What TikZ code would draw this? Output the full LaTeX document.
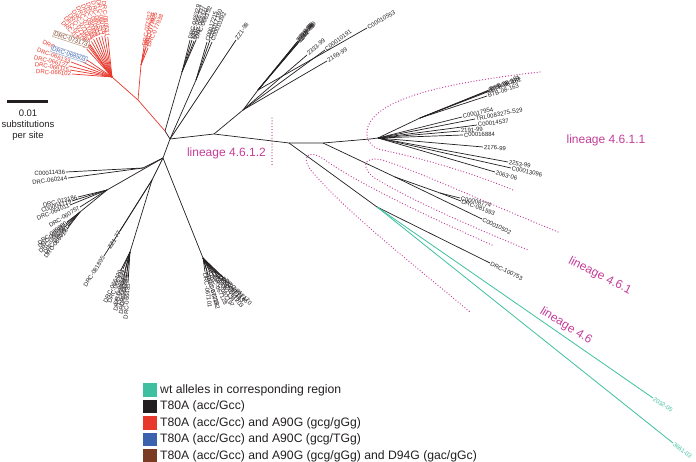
\documentclass[tikz,border=0pt]{standalone}
\usepackage{fontspec}
\setmainfont{Liberation Sans}
\definecolor{tblk}{HTML}{231F20}
\definecolor{tred}{HTML}{E8382C}
\definecolor{tteal}{HTML}{3EBF9F}
\definecolor{tblue}{HTML}{3A62AD}
\definecolor{tbrown}{HTML}{7B3A22}
\definecolor{tmag}{HTML}{C43D98}
\definecolor{tanbox}{HTML}{B49A80}
\definecolor{bluebox}{HTML}{8FA6D0}
\newcommand\lfR[5]{\coordinate (#3) at (#4); \draw[#1] (#2) -- (#3) node[lbl,sloped,pos=1,anchor=west] (#3l) {#5};}
\newcommand\lfL[5]{\coordinate (#3) at (#4); \draw[#1] (#2) -- (#3) node[lbl,sloped,pos=1,anchor=east] (#3l) {#5};}
\begin{document}
\begin{tikzpicture}[x=1pt,y=-1pt,
 bk/.style={draw=tblk,text=tblk,line width=0.7pt},
 rd/.style={draw=tred,text=tred,line width=0.7pt},
 tl/.style={draw=tteal,text=tteal,line width=0.8pt},
 lbl/.style={font=\fontsize{6}{7}\selectfont,inner sep=0.6pt},
 dotl/.style={draw=tmag,line width=1.3pt,line cap=round,dash pattern=on 0pt off 2.9pt},
 lin/.style={text=tmag,font=\fontsize{12}{14}\selectfont,inner sep=0pt},
 leg/.style={font=\fontsize{12.2}{14}\selectfont,anchor=west,inner sep=0pt,text=tblk},
 sw/.style={minimum width=14pt,minimum height=13.5pt,inner sep=0pt,anchor=east},
 boxl/.style={font=\fontsize{6}{7}\selectfont,inner sep=1pt,fill=white,line width=0.5pt,rotate=-18,anchor=east}]
\useasboundingbox (0,0) rectangle (696,462);

% ---------- dotted lineage outlines ----------
\draw[dotl] (540,72) .. controls (470,80) and (400,92) .. (376,115) .. controls (362,128) and (364,146) .. (382,150) .. controls (430,160) and (480,176) .. (513,190);
\draw[dotl] (558,232) .. controls (480,200) and (410,168) .. (382,160) .. controls (362,155) and (360,170) .. (378,180) .. controls (420,205) and (485,232) .. (528,250);
\draw[dotl] (492,245) .. controls (440,222) and (360,185) .. (325,160) .. controls (305,146) and (300,160) .. (315,175) .. controls (350,215) and (420,270) .. (470,312);
\coordinate (dA) at (272,118); \coordinate (dB) at (272,166);
\draw[dotl] (dA) -- (dB);

% ---------- backbone ----------
\coordinate (C0) at (165,131);
\coordinate (C1) at (170,139);
\coordinate (C2) at (163,158);
\coordinate (B1) at (214,134);
\coordinate (B2) at (289,143);
\coordinate (B3) at (323,143);
\coordinate (B4) at (370,139);
\draw[bk] (C0) -- (C1) -- (C2);
\draw[bk] (C1) -- (B1) -- (B2) -- (B3) -- (B4);

% ---------- top black branches ----------
\coordinate (TJ1) at (182,72); \draw[bk] (C0) -- (TJ1);
\lfR{bk}{TJ1}{ta1}{190,40}{DRC-066329}
\lfR{bk}{TJ1}{ta2}{192,40}{DRC-066337}
\lfR{bk}{TJ1}{ta3}{194,41}{DRC-066341}
\lfR{bk}{TJ1}{ta4}{196,40}{DRC-066352}
\coordinate (TJ2) at (196,80); \draw[bk] (C1) -- (TJ2);
\lfR{bk}{TJ2}{tb1}{207,42}{C00017215}
\lfR{bk}{TJ2}{tb2}{210,40}{C00017160}
\lfR{bk}{TJ2}{tb3}{212,42}{C00010392}
\lfR{bk}{C1}{tc1}{236,40}{ZZ1-98}

% ---------- upper right fan ----------
\coordinate (F1) at (243,110); \draw[bk] (B1) -- (F1);
\coordinate (F2) at (258,90); \draw[bk] (F1) -- (F2);
\lfR{bk}{F2}{s1}{297,42}{2293-99}
\lfR{bk}{F2}{s2}{298,41}{2234-99}
\lfR{bk}{F2}{s3}{299,42}{2292-99}
\lfR{bk}{F2}{s4}{300,40}{2218-99}
\lfR{bk}{F2}{s5}{298,43}{2245-99}
\lfR{bk}{F1}{u1}{307,55}{2333-99}
\lfR{bk}{F1}{u2}{325,50}{C00010191}
\lfR{bk}{F1}{u3}{327,61}{2169-99}
\lfR{bk}{F2}{u4}{367,28}{C00010553}

% ---------- lineage 4.6.1.1 ----------
\coordinate (G0) at (378,138); \draw[bk] (B4) -- (G0);
\coordinate (G1) at (420,118); \draw[bk] (G0) -- (G1);
\lfR{bk}{G1}{v0}{487,96}{BTB-08-163}
\lfR{bk}{G1}{va}{488,91}{BTB-08-159}
\lfR{bk}{G1}{vb}{489,90}{BTB-08-161}
\lfR{bk}{G1}{vc}{490,91}{BTB-08-162}
\lfR{bk}{G0}{v2}{462,117}{C00017954}
\lfR{bk}{G0}{v3}{475,119}{TRL0083275-S29}
\lfR{bk}{G0}{v4}{477,125}{C00014537}
\lfR{bk}{G0}{v5}{460,131}{2191-99}
\lfR{bk}{G0}{v6}{463,135}{C00016884}
\lfR{bk}{G0}{v7}{483,147}{2176-99}
\lfR{bk}{G0}{v8}{508,162}{2253-99}
\lfR{bk}{G0}{v9}{511,168}{C00013096}
\lfR{bk}{G0}{v10}{495,172}{2063-06}

% ---------- lineage 4.6.1 ----------
\coordinate (H0) at (395,177); \draw[bk] (B3) -- (H0);
\coordinate (H1) at (440,193); \draw[bk] (H0) -- (H1);
\lfR{bk}{H1}{w1}{460,198}{C00008774}
\lfR{bk}{H1}{w2}{461,201}{DRC-081593}
\lfR{bk}{H0}{w3}{482,219}{C00010502}

% ---------- lineage 4.6 ----------
\coordinate (J46) at (377,207); \draw[bk] (B2) -- (J46);
\lfR{bk}{J46}{x1}{490,263}{DRC-100753}
\lfR{tl}{J46}{x2}{653,398}{2032-05}
\lfR{tl}{J46}{x3}{673,443}{3661-03}

% ---------- left clusters ----------
\coordinate (K1) at (143,168); \draw[bk] (C2) -- (K1);
\lfL{bk}{K1}{y1}{66,172}{C00011436}
\lfL{bk}{K1}{y2}{68,178}{DRC-060244}
\coordinate (K2) at (107,190); \draw[bk] (C2) -- (K2);
\lfL{bk}{K2}{y3}{78,197}{DRC-073186}
\lfL{bk}{K2}{y4}{72,201}{C00004719}
\lfL{bk}{K2}{y5}{70,205}{DRC-064011}
\lfL{bk}{K2}{y6}{80,207}{DRC-060757}
\coordinate (K3) at (80,212); \draw[bk] (K2) -- (K3);
\lfL{bk}{K3}{y7}{67,222}{DRC-065960}
\lfL{bk}{K3}{y8}{66,224}{DRC-065972}
\lfL{bk}{K3}{y9}{68,226}{DRC-065981}
\lfL{bk}{K3}{y10}{65,227}{DRC-066004}
\lfL{bk}{K3}{y11}{67,229}{DRC-066018}
\coordinate (K4) at (152,180); \draw[bk] (C2) -- (K4);
\lfL{bk}{K4}{z1}{120,231}{ZZ1-77}
\lfL{bk}{K4}{z2}{104,256}{DRC-081895}
\coordinate (K5) at (130,252); \draw[bk] (K4) -- (K5);
\lfL{bk}{K5}{z3}{121,270}{DRC-066420}
\lfL{bk}{K5}{z4}{123,269}{DRC-066431}
\lfL{bk}{K5}{z5}{125,270}{DRC-066447}
\lfL{bk}{K5}{z6}{127,271}{DRC-066452}
\lfL{bk}{K5}{z7}{124,276}{DRC-066468}
\lfL{bk}{K5}{z8}{126,279}{DRC-066479}
\lfL{bk}{K5}{z9}{128,283}{DRC-066485}

% ---------- bottom cluster ----------
\coordinate (M1) at (203,258); \draw[bk] (C2) -- (M1);
\lfR{bk}{M1}{m1}{205,272}{DRC-067101}
\lfR{bk}{M1}{m2}{207,271}{DRC-067115}
\lfR{bk}{M1}{m3}{210,272}{DRC-067128}
\lfR{bk}{M1}{m4}{213,272}{DRC-067134}
\lfR{bk}{M1}{m5}{216,273}{DRC-067149}
\lfR{bk}{M1}{m6}{219,275}{DRC-067153}
\lfR{bk}{M1}{m7}{222,277}{DRC-067166}
\lfR{bk}{M1}{m8}{225,279}{DRC-067170}
\lfR{bk}{M1}{m9}{208,275}{DRC-067182}
\lfR{bk}{M1}{m10}{214,276}{DRC-067197}
\lfR{bk}{M1}{m11}{220,279}{DRC-067203}

% ---------- red cluster ----------
\coordinate (RA) at (138,100);
\coordinate (RJ) at (112,77);
\draw[rd] (C0) -- (RA) -- (RJ);
\coordinate (RB) at (141,65); \draw[rd] (RA) -- (RB);
\lfR{rd}{RB}{rb1}{144,47}{DRC-077912}
\lfR{rd}{RB}{rb2}{146,47}{DRC-077925}
\lfR{rd}{RB}{rb3}{148,48}{DRC-077938}
\lfR{rd}{RB}{rb4}{145,49}{DRC-077940}
\lfL{rd}{RJ}{r1}{72,74}{DRC-066102}
\lfL{rd}{RJ}{r2}{70,70}{DRC-066115}
\lfL{rd}{RJ}{r3}{69,66}{DRC-066127}
\lfL{rd}{RJ}{r4}{71,62}{DRC-066133}
\lfL{rd}{RJ}{r5}{75,58}{DRC-066148}
\lfL{rd}{RJ}{r6}{86.6,48.8}{DRC-071044}
\lfL{rd}{RJ}{r7}{87.4,45.5}{DRC-071052}
\lfL{rd}{RJ}{r8}{89.6,43.8}{DRC-071069}
\lfL{rd}{RJ}{r9}{91.5,41.5}{DRC-071073}
\lfL{rd}{RJ}{r10}{93.6,39.3}{DRC-071088}
\lfL{rd}{RJ}{r11}{96.3,38.1}{DRC-080498}
\lfL{rd}{RJ}{r12}{99,37.1}{DRC-080503}
\lfL{rd}{RJ}{r13}{101.8,36.2}{DRC-080517}
\lfL{rd}{RJ}{r14}{104.7,35.6}{DRC-080526}
\lfL{rd}{RJ}{r15}{107.8,37.2}{DRC-080531}
\node[boxl,draw=tanbox,text=tbrown] (bxA) at (89,45) {DRC-073173};
\node[boxl,draw=bluebox,text=tblue] (bxB) at (87,60) {DRC-068503};
\draw[rd] (RJ) -- (bxA.east);
\draw[rd] (RJ) -- (bxB.east);

% ---------- lineage labels ----------
\node[lin,anchor=east] (L4612) at (266,153) {lineage 4.6.1.2};
\node[lin] (L4611) at (606,140) {lineage 4.6.1.1};
\node[lin,rotate=-27] (L461) at (600,276) {lineage 4.6.1};
\node[lin,rotate=-32] (L46) at (566,326) {lineage 4.6};

% ---------- scale bar ----------
\coordinate (sbA) at (7,102); \coordinate (sbB) at (48,102);
\draw[tblk,line width=3pt] (sbA) -- (sbB);
\node[font=\fontsize{9.5}{11}\selectfont,align=center,text=tblk,inner sep=0pt] (sbt) at (28,125) {0.01\\substitutions\\per site};

% ---------- legend ----------
\node[sw,fill=tteal] (s1) at (157,390) {};
\node[leg] (l1) at (160,390) {wt alleles in corresponding region};
\node[sw,fill=tblk] (s2) at (157,406.5) {};
\node[leg] (l2) at (160,406.5) {T80A (acc/Gcc)};
\node[sw,fill=tred] (s3) at (157,423) {};
\node[leg] (l3) at (160,423) {T80A (acc/Gcc) and A90G (gcg/gGg)};
\node[sw,fill=tblue] (s4) at (157,439.5) {};
\node[leg] (l4) at (160,439.5) {T80A (acc/Gcc) and A90C (gcg/TGg)};
\node[sw,fill=tbrown] (s5) at (157,456) {};
\node[leg] (l5) at (160,456) {T80A (acc/Gcc) and A90G (gcg/gGg) and D94G (gac/gGc)};
\end{tikzpicture}
\end{document}
